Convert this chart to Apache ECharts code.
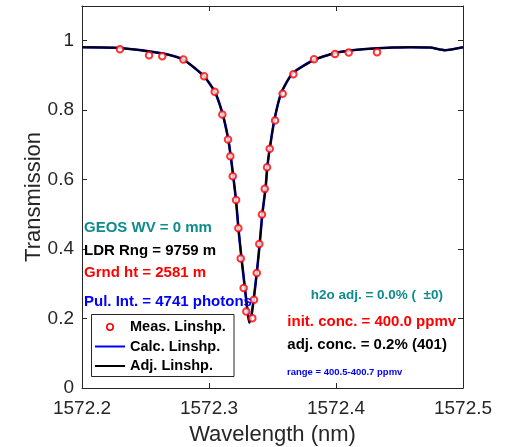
<!DOCTYPE html>
<html>
<head>
<meta charset="utf-8">
<script src="https://cdn.jsdelivr.net/npm/echarts@6/dist/echarts.min.js"></script>
<style>
html,body{margin:0;padding:0;background:#fff;}
#chart{width:505px;height:447px;}
</style>
</head>
<body>
<div id="chart"></div>
<script>
// Measured lineshape (red circles)
var measWavelength = [1572.2299,1572.2528,1572.2632,1572.2798,1572.2961,1572.3045,1572.3105,1572.3150,1572.3168,1572.3187,
  1572.3213,1572.3231,1572.3250,1572.3273,1572.3294,1572.3341,1572.3354,1572.3376,1572.3396,1572.3417,
  1572.3439,1572.3457,1572.3478,1572.3520,1572.3580,1572.3664,1572.3827,1572.3992,1572.4100,1572.4323];
var measTrans = [0.9755,0.9582,0.9553,0.9457,0.8975,0.8534,0.7879,0.7157,0.6675,0.6098,
  0.5417,0.4597,0.3732,0.2877,0.2202,0.2012,0.2540,0.3310,0.4147,0.4993,
  0.5734,0.6358,0.6889,0.7706,0.8476,0.9033,0.9466,0.9619,0.9659,0.9668];

// Calculated / adjusted lineshape (curves)
var lineWavelength = [1572.2000,1572.2299,1572.2640,1572.2798,1572.2961,1572.3047,1572.3108,1572.3152,1572.3171,1572.3191,
  1572.3213,1572.3231,1572.3252,1572.3276,1572.3297,1572.3317,1572.3336,1572.3357,1572.3378,1572.3399,
  1572.3420,1572.3446,1572.3459,1572.3480,1572.3514,1572.3567,1572.3656,1572.3821,1572.3992,1572.4189,
  1572.4451,1572.4583,1572.4740,1572.4858,1572.5000];
var calcTrans = [0.9812,0.9792,0.9631,0.9457,0.8975,0.8522,0.7879,0.7157,0.6675,0.6098,
  0.5397,0.4626,0.3867,0.3088,0.2416,0.1885,0.2127,0.2704,0.3377,0.4147,
  0.5013,0.5781,0.6358,0.6935,0.7706,0.8476,0.9053,0.9437,0.9648,0.9746,
  0.9804,0.9812,0.9804,0.9726,0.9812];
var adjTrans = calcTrans.slice();

var xTicks = {min: 1572.2, max: 1572.5, interval: 0.1};
var yTicks = {min: 0, max: 1.1, interval: 0.2};

function zip(a, b) { return a.map(function (v, i) { return [v, b[i]]; }); }

var axisColor = '#262626';
var chart = echarts.init(document.getElementById('chart'), null, {renderer: 'canvas'});
var font = 'Liberation Sans, Arial, Helvetica, sans-serif';

function label(x, y, text, color, size) {
  return {type: 'text', x: x, y: y, z: 10,
    style: {text: text, fill: color, font: 'bold ' + size + 'px ' + font, align: 'left', verticalAlign: 'middle'}};
}

var option = {
  animation: false,
  backgroundColor: '#fff',
  grid: {left: 82, right: 42, top: 6, bottom: 59, containLabel: false, outerBoundsMode: 'none'},
  xAxis: [{
    type: 'value', position: 'bottom',
    min: xTicks.min, max: xTicks.max, interval: xTicks.interval,
    axisLine: {show: true, onZero: false, lineStyle: {color: axisColor, width: 1}},
    axisTick: {show: true, inside: true, length: 5, lineStyle: {color: axisColor}},
    splitLine: {show: false},
    axisLabel: {color: axisColor, fontSize: 19, fontFamily: font, margin: 11,
      formatter: function (v) { return v.toFixed(1); }},
    name: 'Wavelength (nm)', nameLocation: 'middle', nameGap: 36, nameMoveOverlap: false,
    nameTextStyle: {color: axisColor, fontSize: 22, fontFamily: font}
  }, {
    type: 'value', position: 'top',
    min: xTicks.min, max: xTicks.max, interval: xTicks.interval,
    axisLine: {show: true, onZero: false, lineStyle: {color: axisColor, width: 1}},
    axisTick: {show: true, inside: true, length: 5, lineStyle: {color: axisColor}},
    splitLine: {show: false}, axisLabel: {show: false}
  }],
  yAxis: [{
    type: 'value', position: 'left',
    min: yTicks.min, max: yTicks.max, interval: yTicks.interval,
    axisLine: {show: true, onZero: false, lineStyle: {color: axisColor, width: 1}},
    axisTick: {show: true, inside: true, length: 5, lineStyle: {color: axisColor}},
    splitLine: {show: false},
    axisLabel: {color: axisColor, fontSize: 19, fontFamily: font, margin: 8,
      formatter: function (v) { return v > 1.05 ? '' : String(Math.round(v * 10) / 10); }},
    name: 'Transmission', nameLocation: 'middle', nameGap: 37, nameMoveOverlap: false,
    nameTextStyle: {color: axisColor, fontSize: 22, fontFamily: font}
  }, {
    type: 'value', position: 'right',
    min: yTicks.min, max: yTicks.max, interval: yTicks.interval,
    axisLine: {show: true, onZero: false, lineStyle: {color: axisColor, width: 1}},
    axisTick: {show: true, inside: true, length: 5, lineStyle: {color: axisColor}},
    splitLine: {show: false}, axisLabel: {show: false}
  }],
  series: [{
    name: 'Calc. Linshp.', type: 'line', data: zip(lineWavelength, calcTrans),
    xAxisIndex: 0, yAxisIndex: 0, symbol: 'none', smooth: 0.2,
    lineStyle: {color: '#0000ff', width: 2.6}, z: 2
  }, {
    name: 'Adj. Linshp.', type: 'line', data: zip(lineWavelength, adjTrans),
    xAxisIndex: 0, yAxisIndex: 0, symbol: 'none', smooth: 0.2,
    lineStyle: {color: '#000000', width: 1.9}, z: 3
  }, {
    name: 'Meas. Linshp.', type: 'scatter', data: zip(measWavelength, measTrans),
    xAxisIndex: 0, yAxisIndex: 0, symbol: 'emptyCircle', symbolSize: 6.5,
    itemStyle: {color: '#ff0000', borderColor: '#ff0000', borderWidth: 1.6}, z: 4
  }],
  graphic: [
    label(84, 228, 'GEOS WV = 0 mm', '#0e8c8c', 15),
    label(84, 250.7, 'LDR Rng = 9759 m', '#000000', 15),
    label(84, 272.7, 'Grnd ht = 2581 m', '#ff0000', 15),
    label(84, 301.7, 'Pul. Int. = 4741 photons', '#0000ff', 15),
    label(310.7, 295, 'h2o adj. = 0.0% (  \u00b10)', '#0e8c8c', 13.5),
    label(287.3, 321.7, 'init. conc. = 400.0 ppmv', '#ff0000', 15),
    label(287.3, 345, 'adj. conc. = 0.2% (401)', '#000000', 15),
    label(287, 372.7, 'range = 400.5-400.7 ppmv', '#0000ff', 9.5),
    // legend box
    {type: 'rect', z: 20, shape: {x: 91.5, y: 314.5, width: 142.5, height: 62}, style: {fill: '#fff', stroke: '#262626', lineWidth: 1}},
    {type: 'circle', z: 21, shape: {cx: 110, cy: 327, r: 3.2}, style: {fill: 'none', stroke: '#ff0000', lineWidth: 1.6}},
    {type: 'line', z: 21, shape: {x1: 95, y1: 346.5, x2: 125, y2: 346.5}, style: {stroke: '#0000ff', lineWidth: 2}},
    {type: 'line', z: 21, shape: {x1: 95, y1: 366, x2: 125, y2: 366}, style: {stroke: '#000000', lineWidth: 2}},
    {type: 'text', z: 21, x: 130, y: 327, style: {text: 'Meas. Linshp.', fill: '#000', font: 'bold 14.5px ' + font, align: 'left', verticalAlign: 'middle'}},
    {type: 'text', z: 21, x: 130, y: 346.5, style: {text: 'Calc. Linshp.', fill: '#000', font: 'bold 14.5px ' + font, align: 'left', verticalAlign: 'middle'}},
    {type: 'text', z: 21, x: 130, y: 366, style: {text: 'Adj. Linshp.', fill: '#000', font: 'bold 14.5px ' + font, align: 'left', verticalAlign: 'middle'}}
  ]
};
chart.setOption(option);
</script>
</body>
</html>
